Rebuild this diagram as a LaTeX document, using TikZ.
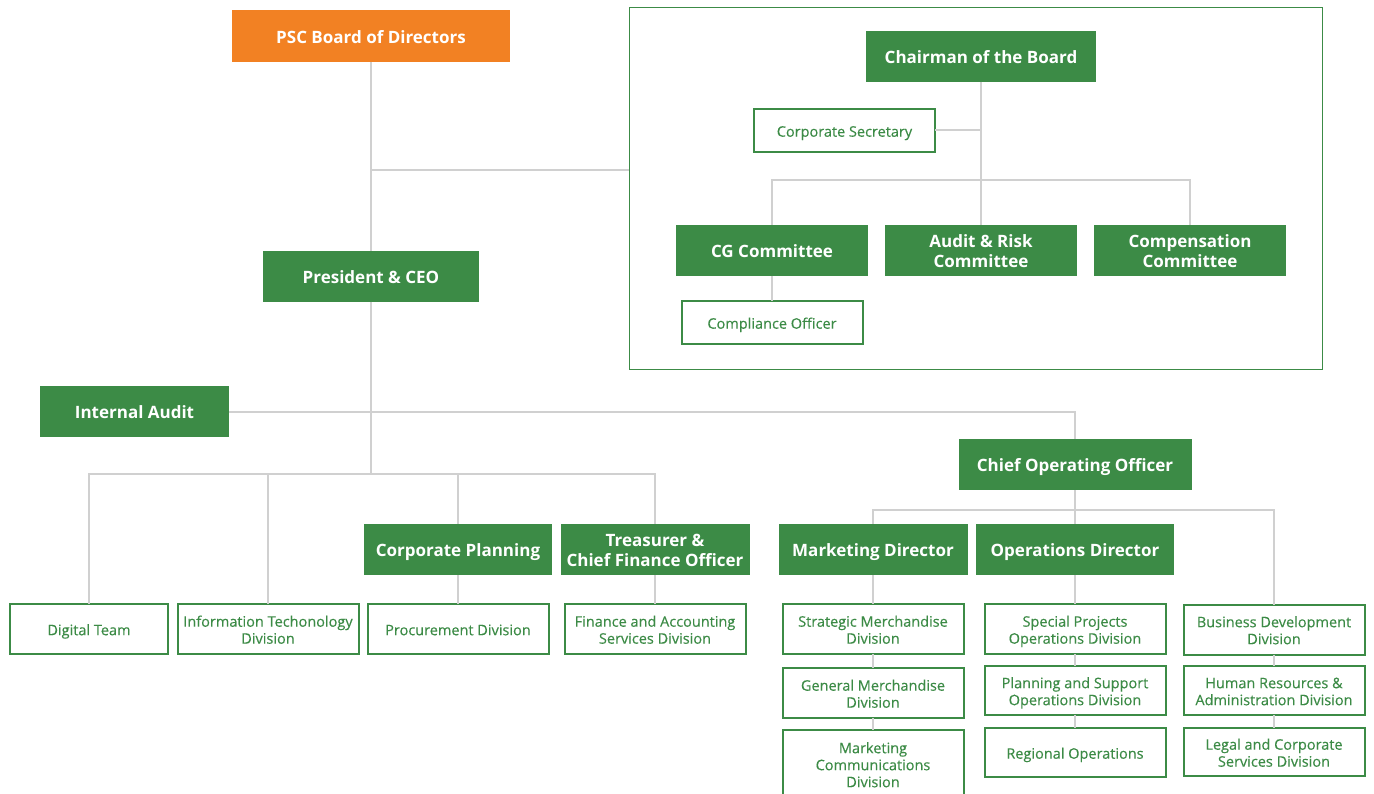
\documentclass[tikz,border=0pt]{standalone}
\usepackage{fontspec}
\setmainfont{Open Sans}
\newfontfamily\dvfamily{Open Sans}[FakeBold=0.3]
\newcommand\hdfont{\fontsize{17}{19.5}\selectfont\bfseries}
\newcommand\dvfont{\fontsize{14.5}{17}\selectfont\dvfamily}
\definecolor{pscgreen}{RGB}{60,139,70}
\definecolor{pscorange}{RGB}{242,129,35}
\definecolor{linkgray}{RGB}{208,208,208}
% fixed text height/depth so the capitals sit in the middle of each box,
% one baselineskip more of height for every extra line
\tikzset{
  head/.style={fill=pscgreen, text=white, font=\hdfont, align=center,
    minimum width=192pt, minimum height=51pt, inner sep=0pt, outer sep=0pt,
    text height=18.2pt, text depth=4.1pt},
  hd2/.style={text height=37.7pt},
  unit/.style={draw=pscgreen, line width=2pt, fill=white, text=pscgreen,
    font=\dvfont, align=center, minimum width=181pt, minimum height=50pt,
    inner sep=0pt, outer sep=0pt, text height=15.9pt, text depth=3.5pt},
  dv2/.style={text height=32.9pt},
  dv3/.style={text height=49.9pt},
  link/.style={draw=linkgray, line width=2pt}
}
\begin{document}
\begin{tikzpicture}[x=1pt,y=-1pt]
    \useasboundingbox (0,0) rectangle (1374,794);
    \node (psc) [head, fill=pscorange, minimum width=278pt, minimum height=52pt] at (371,36) {PSC Board of Directors};
    \node (frame) [draw=pscgreen, line width=1.5pt, minimum width=693pt, minimum height=362pt, inner sep=0pt] at (976,188.5) {};
    \node (chair) [head, minimum width=230pt] at (981,56.5) {Chairman of the Board};
    \node (sec) [unit, minimum height=43pt] at (844.5,130.5) {Corporate Secretary};
    \node (cg) [head] at (772,250.5) {CG Committee};
    \node (audit) [head, hd2] at (981,250.5) {Audit \& Risk\\Committee};
    \node (comp) [head, hd2] at (1190,250.5) {Compensation\\Committee};
    \node (compl) [unit, minimum height=43pt] at (772,322.5) {Compliance Officer};
    \node (ceo) [head, minimum width=216pt] at (371,276.5) {President \& CEO};
    \node (ia) [head, minimum width=189pt] at (134.5,411.5) {Internal Audit};
    \node (coo) [head, minimum width=233pt] at (1075,464.5) {Chief Operating Officer};
    \node (cp) [head, minimum width=188pt] at (458,549.5) {Corporate Planning};
    \node (tre) [head, hd2, minimum width=189pt] at (655,549.5) {Treasurer \&\\Chief Finance Officer};
    \node (mkt) [head, minimum width=189pt] at (873,549.5) {Marketing Director};
    \node (ops) [head, minimum width=198pt] at (1075,549.5) {Operations Director};
    \node (dig) [unit, minimum width=158pt] at (89,629) {Digital Team};
    \node (it) [unit, dv2] at (268,629) {Information Techonology\\Division};
    \node (proc) [unit] at (458,629) {Procurement Division};
    \node (fin) [unit, dv2] at (655,629) {Finance and Accounting\\Services Division};
    \node (smd) [unit, dv2] at (873,629) {Strategic Merchandise\\Division};
    \node (gmd) [unit, dv2] at (873,693) {General Merchandise\\Division};
    \node (mcd) [unit, dv3, minimum height=69pt] at (873,764) {Marketing\\Communications\\Division};
    \node (spo) [unit, dv2] at (1075,629) {Special Projects\\Operations Division};
    \node (pso) [unit, dv2, minimum height=49pt] at (1075,690.5) {Planning and Support\\Operations Division};
    \node (reg) [unit, minimum height=49pt] at (1075,752.5) {Regional Operations};
    \node (bd) [unit, dv2] at (1274,629.5) {Business Development\\Division};
    \node (hr) [unit, dv2, minimum height=49pt] at (1274,690.5) {Human Resources \&\\Administration Division};
    \node (legal) [unit, dv2, minimum height=48pt] at (1274,752) {Legal and Corporate\\Services Division};
    \coordinate (bj) at (371,170);
    \coordinate (cj) at (981,180);
    \coordinate (sj) at (371,474);
    \coordinate (oj) at (1075,510);
    \draw[link] (psc) -- (ceo);
    \draw[link] (bj) -- (bj -| frame.west);
    \draw[link] (chair) -- (cj);
    \draw[link] (sec) -- (sec -| chair);
    \foreach \n in {cg,audit,comp}
      \draw[link] (cj) -| (\n);
    \draw[link] (cg) -- (compl);
    \draw[link] (ceo) -- (sj);
    \draw[link] (ia) -| (coo);
    \foreach \n in {dig,it,cp,tre}
      \draw[link] (sj) -| (\n);
    \draw[link] (cp) -- (proc);
    \draw[link] (tre) -- (fin);
    \draw[link] (coo) -- (oj);
    \foreach \n in {mkt,ops,bd}
      \draw[link] (oj) -| (\n);
    \draw[link] (mkt) -- (smd) -- (gmd) -- (mcd);
    \draw[link] (ops) -- (spo) -- (pso) -- (reg);
    \draw[link] (bd) -- (hr) -- (legal);
  \end{tikzpicture}
\end{document}
